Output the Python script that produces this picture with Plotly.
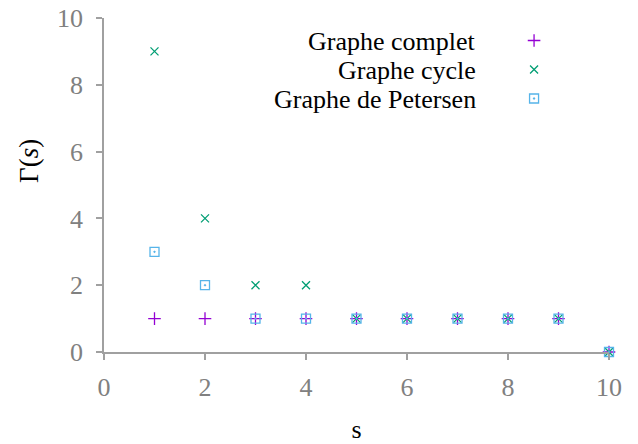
import plotly.graph_objects as go

s_values = [1, 2, 3, 4, 5, 6, 7, 8, 9, 10]
gamma_complet = [1, 1, 1, 1, 1, 1, 1, 1, 1, 0]
gamma_cycle = [9, 4, 2, 2, 1, 1, 1, 1, 1, 0]
gamma_petersen = [3, 2, 1, 1, 1, 1, 1, 1, 1, 0]
series_names = ["Graphe complet", "Graphe cycle", "Graphe de Petersen"]
x_ticks = [0, 2, 4, 6, 8, 10]
y_ticks = [0, 2, 4, 6, 8, 10]

FONT = "Liberation Serif"
fig = go.Figure()
fig.add_trace(go.Scatter(x=s_values, y=gamma_complet, mode="markers", name=series_names[0], legendgroup="a",
                         marker=dict(symbol="cross-thin", size=9, color="#9400d3",
                                     line=dict(width=1.3, color="#9400d3")), cliponaxis=False))
fig.add_trace(go.Scatter(x=s_values, y=gamma_cycle, mode="markers", name=series_names[1], legendgroup="b",
                         marker=dict(symbol="x-thin", size=8, color="#009e73",
                                     line=dict(width=1.3, color="#009e73")), cliponaxis=False))
fig.add_trace(go.Scatter(x=s_values, y=gamma_petersen, mode="markers", name=series_names[2], legendgroup="c",
                         marker=dict(symbol="square-open-dot", size=9, color="#56b4e9",
                                     line=dict(width=1.3, color="#56b4e9")), cliponaxis=False))

ys = [0.931, 0.844, 0.757]
for name, yy in zip(series_names, ys):
    fig.add_annotation(text=name, xref="paper", yref="paper", x=0.7406, y=yy,
                       xanchor="right", yanchor="middle", showarrow=False,
                       font=dict(family=FONT, size=26, color="black"))

# y axis title placed like the reference (above the axis centre)
fig.add_annotation(text="Γ(<i>s</i>)", xref="paper", yref="paper", x=-0.1485, y=0.572,
                   xanchor="center", yanchor="middle", textangle=-90, showarrow=False,
                   font=dict(family=FONT, size=27, color="black"))

axis_common = dict(showgrid=False, zeroline=False, showline=True, linecolor="#a0a0a0",
                   linewidth=1.5, ticks="outside", ticklen=6, tickcolor="#a0a0a0", tickwidth=1.5,
                   ticklabeloverflow="allow",
                   tickfont=dict(family=FONT, size=26, color="#808080"))
fig.update_xaxes(range=[0, 10], tickvals=x_ticks, ticklabelstandoff=5,
                 title=dict(text="s", font=dict(family=FONT, size=26, color="black"), standoff=22),
                 **axis_common)
fig.update_yaxes(range=[0, 10], tickvals=y_ticks, ticklabelstandoff=8, **axis_common)

fig.update_layout(width=638, height=444, plot_bgcolor="white", paper_bgcolor="white",
                  margin=dict(l=104, r=29, t=18, b=92, autoexpand=False),
                  legend=dict(x=0.812, y=0.976, xanchor="left", yanchor="top",
                              tracegroupgap=10,
                              font=dict(family=FONT, size=1, color="rgba(0,0,0,0)"),
                              bgcolor="rgba(0,0,0,0)"))
fig.write_html("out.html", config={"displayModeBar": False},
               post_script="document.body.style.margin='0';")
